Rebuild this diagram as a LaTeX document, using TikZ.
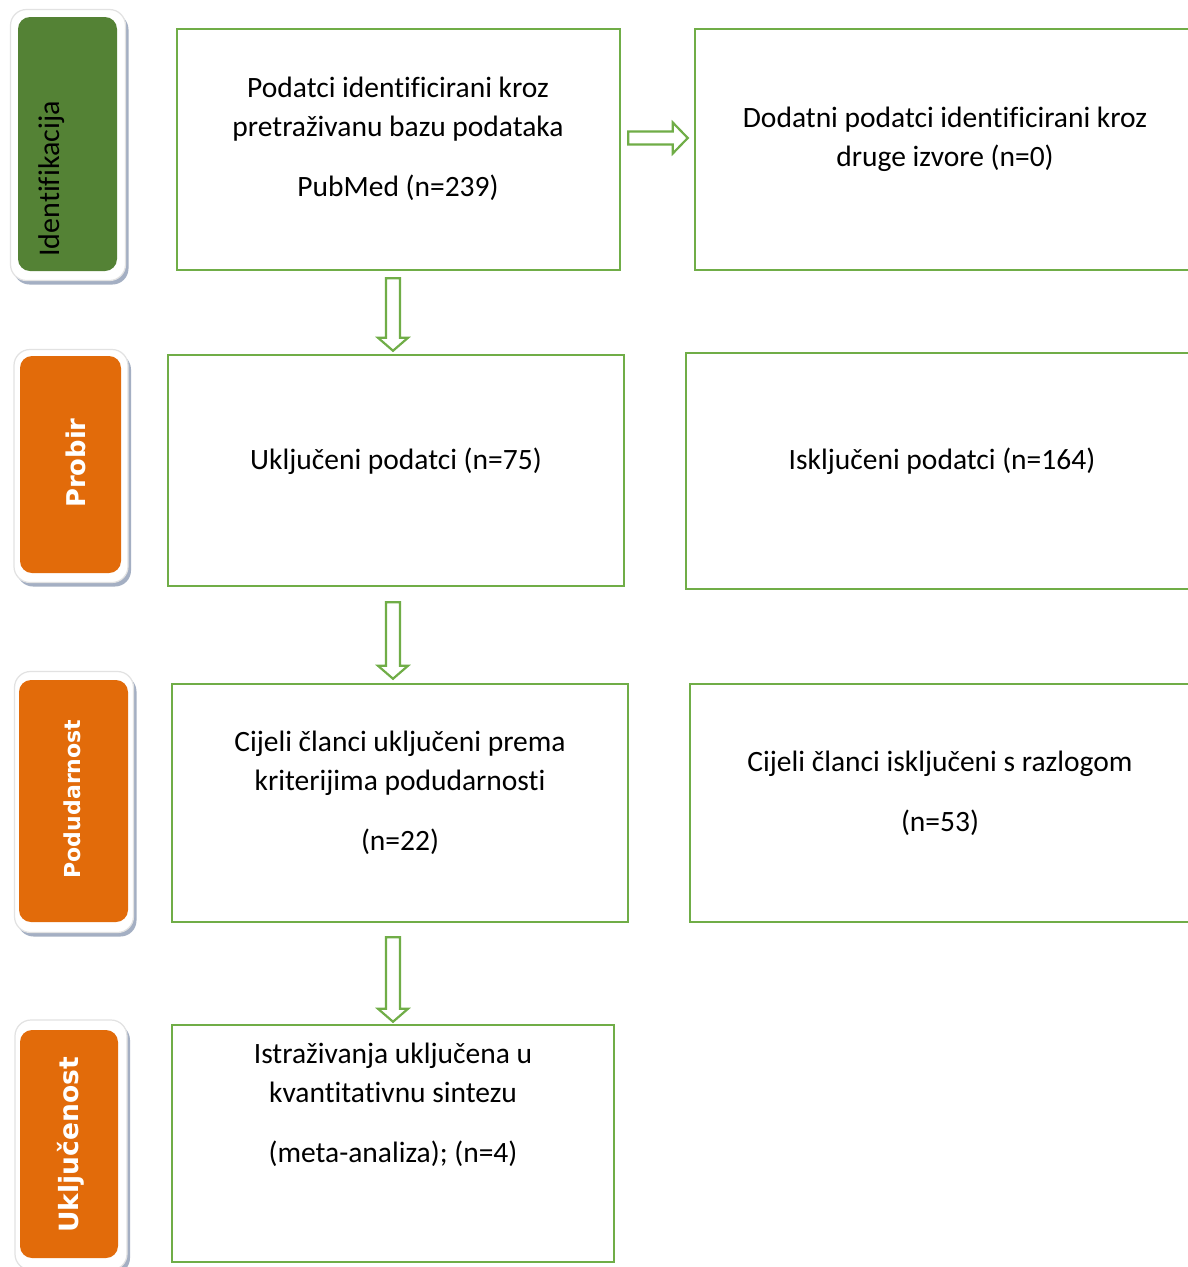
\documentclass[tikz,border=0pt]{standalone}
\usepackage{fontspec}
\setmainfont[Ligatures=CommonOff]{Carlito}
\newfontfamily\lblfont{DejaVu Sans}
\usetikzlibrary{calc,shadows}
\definecolor{boxgreen}{HTML}{70AD47}
\definecolor{idgreen}{HTML}{548235}
\definecolor{steporange}{HTML}{E26B0A}
\definecolor{shadowblue}{HTML}{8E9CB4}
\definecolor{outergray}{HTML}{E2E2E2}
\newcommand\vfat[2]{\draw[fatarr] let \p1=#1, \p2=#2 in (\x1-7pt,\y1) -- (\x1+7pt,\y1) -- (\x1+7pt,\y2+13pt) -- (\x1+15pt,\y2+13pt) -- (\x1,\y2) -- (\x1-15pt,\y2+13pt) -- (\x1-7pt,\y2+13pt) -- cycle;}
\newcommand\hfat[2]{\draw[fatarr] let \p1=#1, \p2=#2 in (\x1,\y1-6.5pt) -- (\x2-15pt,\y1-6.5pt) -- (\x2-15pt,\y1-15.5pt) -- (\x2,\y1) -- (\x2-15pt,\y1+15.5pt) -- (\x2-15pt,\y1+6.5pt) -- (\x1,\y1+6.5pt) -- cycle;}
\begin{document}
\begin{tikzpicture}[x=1pt,y=-1pt,
  fbox/.style={draw=boxgreen, line width=2.5pt, inner sep=0pt},
  txt/.style={align=center, font=\fontsize{29.5}{39}\selectfont, inner sep=0pt},
  fatarr/.style={draw=boxgreen, fill=white, line width=2.2pt, line join=miter},
  sideouter/.style={fill=white, draw=outergray, line width=1.2pt, rounded corners=16pt, inner sep=0pt,
     drop shadow={shadow xshift=3pt, shadow yshift=-4pt, fill=shadowblue, opacity=0.8}},
  sideinner/.style={rounded corners=12pt, inner sep=0pt},
  sidetxt/.style={rotate=90, inner sep=0pt}]
\useasboundingbox (0,0) rectangle (1187,1267);
\fill[white] (0,0) rectangle (1187,1267);

% side labels
\node[sideouter, minimum width=115, minimum height=271] (s1o) at (68,145) {};
\node[sideinner, fill=idgreen, minimum width=99, minimum height=254] (s1) at (67.5,144) {};
\node[sidetxt, font=\fontsize{30}{34}\selectfont] (s1t) at (52,179) {Identifikacija};

\node[sideouter, minimum width=114, minimum height=233] (s2o) at (71,466) {};
\node[sideinner, fill=steporange, minimum width=101, minimum height=217] (s2) at (70.5,464.5) {};
\node[sidetxt, text=white, font=\lblfont\bfseries\fontsize{25.8}{30}\selectfont] (s2t) at (76,463) {Probir};

\node[sideouter, minimum width=119, minimum height=261] (s3o) at (74,802) {};
\node[sideinner, fill=steporange, minimum width=109, minimum height=242] (s3) at (73.5,801) {};
\node[sidetxt, text=white, font=\lblfont\bfseries\fontsize{22}{26}\selectfont] (s3t) at (72,799) {Podudarnost};

\node[sideouter, minimum width=112, minimum height=250] (s4o) at (71,1145) {};
\node[sideinner, fill=steporange, minimum width=98, minimum height=228] (s4) at (69,1144) {};
\node[sidetxt, text=white, font=\lblfont\bfseries\fontsize{26.5}{30}\selectfont] (s4t) at (71,1145) {Uključenost};

% boxes
\node[fbox, minimum width=443, minimum height=241] (b1) at (398.5,149.5) {};
\node[fbox, minimum width=500, minimum height=241] (b2) at (945,149.5) {};
\node[fbox, minimum width=456, minimum height=231] (b3) at (396,470.5) {};
\node[fbox, minimum width=510, minimum height=236] (b4) at (941,471) {};
\node[fbox, minimum width=456, minimum height=238] (b5) at (400,803) {};
\node[fbox, minimum width=506, minimum height=238] (b6) at (943,803) {};
\node[fbox, minimum width=442, minimum height=237] (b7) at (393,1143.5) {};

% texts
\node[txt] (t1) at (398,139) {Podatci identificirani kroz\\pretraživanu bazu podataka\\[21pt]PubMed (n=239)};
\node[txt] (t2) at (945,139) {Dodatni podatci identificirani kroz\\druge izvore (n=0)};
\node[txt] (t3) at (396,461) {Uključeni podatci (n=75)};
\node[txt] (t4) at (942,461) {Isključeni podatci (n=164)};
\node[txt] (t5) at (400,793) {Cijeli članci uključeni prema\\kriterijima podudarnosti\\[21pt](n=22)};
\node[txt] (t6) at (940,793) {Cijeli članci isključeni s razlogom\\[21pt](n=53)};
\node[txt] (t7) at (393,1105) {Istraživanja uključena u\\kvantitativnu sintezu\\[21pt](meta-analiza); (n=4)};

% arrows
\coordinate (ax) at (393,0);
\vfat{($(b1.south -| ax)+(0,7)$)}{($(b3.north -| ax)+(0,-3)$)}
\vfat{($(b3.south -| ax)+(0,15)$)}{($(b5.north -| ax)+(0,-4)$)}
\vfat{($(b5.south -| ax)+(0,14)$)}{($(b7.north -| ax)+(0,-2)$)}
\hfat{($(b1.east)+(7,-11.5)$)}{($(b2.west)+(-6,-11.5)$)}
\end{tikzpicture}
\end{document}
